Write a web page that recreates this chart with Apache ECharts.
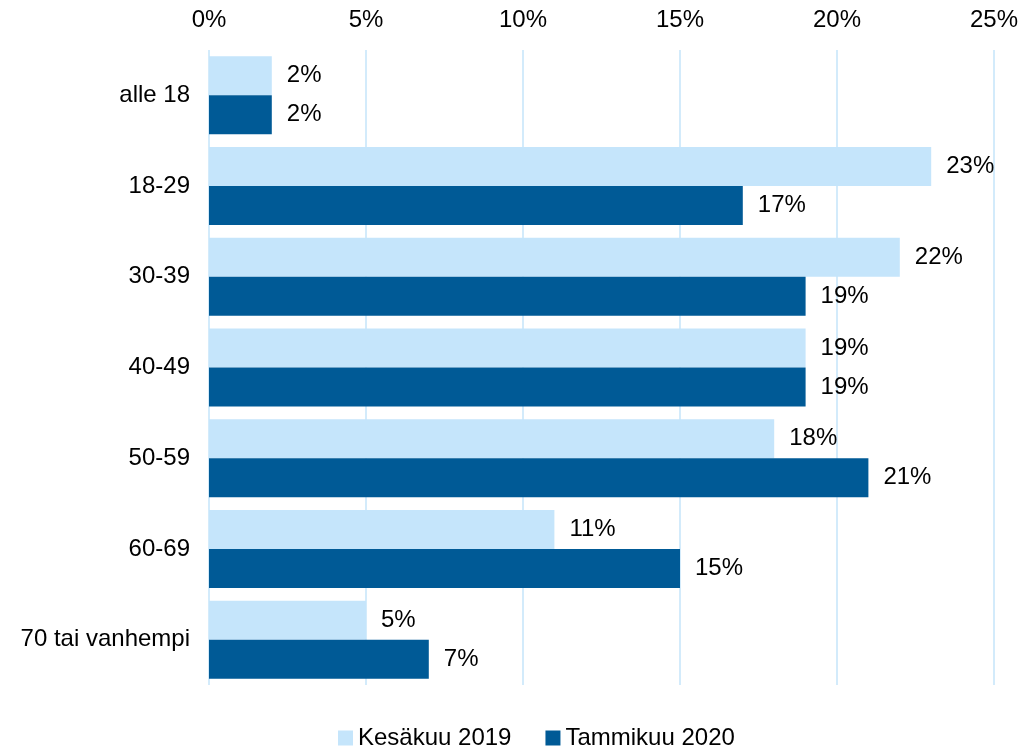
<!DOCTYPE html>
<html>
<head>
<meta charset="utf-8">
<script src="https://cdn.jsdelivr.net/npm/echarts@6/dist/echarts.min.js"></script>
<style>
  html, body { margin: 0; padding: 0; background: #ffffff; }
  #chart { width: 1025px; height: 749px; }
</style>
</head>
<body>
<div id="chart"></div>
<script>
// age groups, top to bottom
const categories = ["alle 18", "18-29", "30-39", "40-49", "50-59", "60-69", "70 tai vanhempi"];
const kesakuu2019 = [2, 23, 22, 19, 18, 11, 5];
const tammikuu2020 = [2, 17, 19, 19, 21, 15, 7];
const seriesNames = ["Kesäkuu 2019", "Tammikuu 2020"];

const font = "Liberation Sans, Arial, sans-serif";

const labelOpt = {
  show: true,
  position: "right",
  distance: 15,
  color: "#000",
  fontSize: 24,
  fontFamily: font,
  formatter: p => p.value + "%"
};

let myChart = echarts.init(document.getElementById("chart"));
myChart.setOption({
  animation: false,
  grid: { left: 209, right: 31, top: 50, bottom: 64 },
  legend: {
    top: 721,
    left: 333,
    itemWidth: 15,
    itemHeight: 15,
    itemGap: 34,
    icon: "rect",
    textStyle: { color: "#000", fontSize: 24, fontFamily: font }
  },
  xAxis: {
    type: "value",
    position: "top",
    min: 0,
    max: 25,
    interval: 5,
    axisLine: { show: false },
    axisTick: { show: false },
    axisLabel: { formatter: "{value}%", color: "#000", fontSize: 24, fontFamily: font, margin: 18 },
    splitLine: { lineStyle: { color: "#d3ebfb", width: 2 } }
  },
  yAxis: {
    type: "category",
    data: categories,
    inverse: true,
    axisLine: { show: false },
    axisTick: { show: false },
    axisLabel: { color: "#000", fontSize: 24, fontFamily: font, margin: 19 }
  },
  series: [
    {
      name: seriesNames[0],
      type: "bar",
      data: kesakuu2019,
      itemStyle: { color: "#c5e5fb" },
      barGap: "0%",
      barCategoryGap: "14%",
      label: labelOpt
    },
    {
      name: seriesNames[1],
      type: "bar",
      data: tammikuu2020,
      itemStyle: { color: "#005a96" },
      barGap: "0%",
      barCategoryGap: "14%",
      label: labelOpt
    }
  ]
});
</script>
</body>
</html>
